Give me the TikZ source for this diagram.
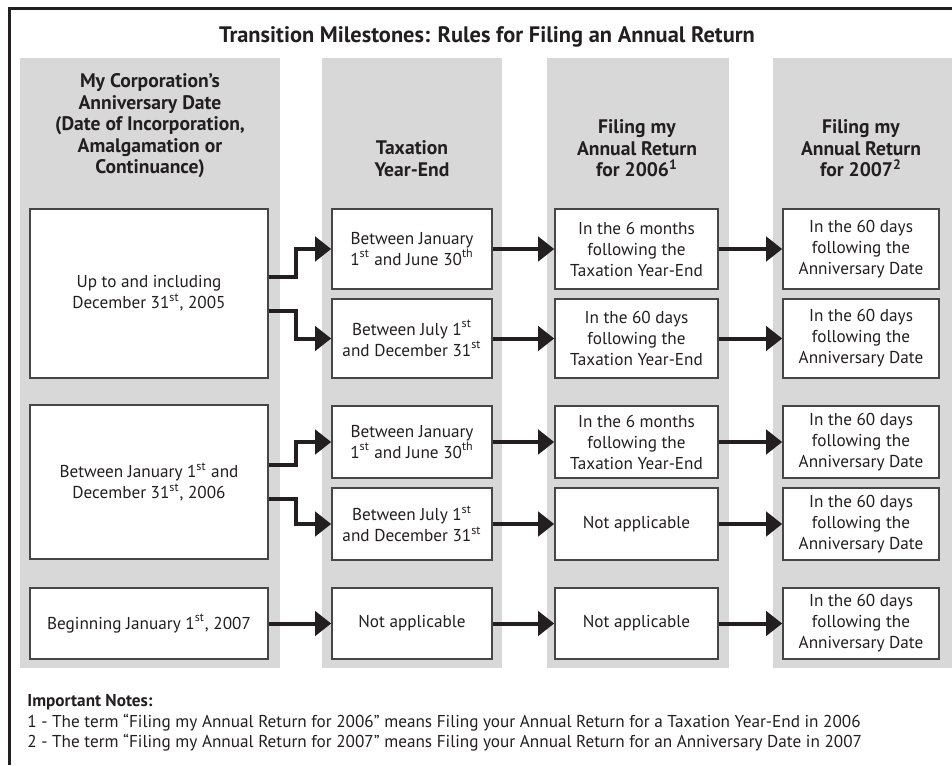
\documentclass[tikz,border=0pt]{standalone}
\usepackage{fontspec}
\setmainfont{PT Sans}
\usetikzlibrary{positioning}
\usetikzlibrary{arrows.meta}
\definecolor{ink}{RGB}{35,31,32}
\definecolor{colgray}{RGB}{216,216,216}
\definecolor{boxline}{RGB}{70,70,70}
\tikzset{
    Box/.style = {rectangle, draw=boxline, fill=white, line width=0.8pt, align=center, inner sep=0pt, text=ink, font=\fontsize{8.6}{10.5}\selectfont}
}
\tikzset{
    Edge/.style = {draw=ink, line width=2pt, -{Triangle[length=8pt,width=12pt]}}
}

\begin{document}
\begin{tikzpicture}[
    x=0.5pt, y=-0.5pt
]
\tikzset{
    Head/.style = {align=center, text=ink, font=\bfseries\fontsize{9.8}{10.75}\selectfont},
}
\useasboundingbox (0,0) rectangle (952,765);
\fill[white] (0,0) rectangle (952,765);

% frame and columns
\draw[ink, line width=1.5pt] (952,9) -- (9,9) -- (9,765);
\fill[colgray] (20,58) rectangle (280,668);
\fill[colgray] (322,58) rectangle (502,668);
\fill[colgray] (547,58) rectangle (729,668);
\fill[colgray] (773,58) rectangle (952,668);

\node[text=ink, font=\bfseries\fontsize{11.2}{13}\selectfont] at (487,37) (title) {Transition Milestones: Rules for Filing an Annual Return};

\node[Head] at (150,126) (h1) {My Corporation's\\Anniversary Date\\(Date of Incorporation,\\Amalgamation or\\Continuance)};
\node[Head] at (412,158.5) (h2) {Taxation\\Year-End};
\node[Head] at (637,148.5) (h3) {Filing my\\Annual Return\\for 2006\textsuperscript{1}};
\node[Head] at (861,148.5) (h4) {Filing my\\Annual Return\\for 2007\textsuperscript{2}};

% anniversary date
\node[Box, minimum width=119pt, minimum height=84.5pt] at (149,293.5) (A1) {Up to and including\\December 31\textsuperscript{st}, 2005};
\node[Box, minimum width=119pt, minimum height=77pt] at (149,482) (A2) {Between January 1\textsuperscript{st} and\\December 31\textsuperscript{st}, 2006};
\node[Box, minimum width=119pt, minimum height=35.5pt] at (149,623.5) (A3) {Beginning January 1\textsuperscript{st}, 2007};

% taxation year-end
\node[Box, minimum width=80pt, minimum height=40pt] at (412,249) (B1) {Between January\\1\textsuperscript{st} and June 30\textsuperscript{th}};
\node[Box, minimum width=80pt, minimum height=39.5pt] at (412,338.5) (B2) {Between July 1\textsuperscript{st}\\and December 31\textsuperscript{st}};
\node[Box, minimum width=80pt, minimum height=36pt] at (412,442) (B3) {Between January\\1\textsuperscript{st} and June 30\textsuperscript{th}};
\node[Box, minimum width=80pt, minimum height=36pt] at (412,524) (B4) {Between July 1\textsuperscript{st}\\and December 31\textsuperscript{st}};
\node[Box, minimum width=80pt, minimum height=35.5pt] at (412,623.5) (B5) {Not applicable};

% return for 2006
\node[Box, minimum width=81.5pt, minimum height=40pt] at (636.5,249) (C1) {In the 6 months\\following the\\Taxation Year-End};
\node[Box, minimum width=81.5pt, minimum height=39.5pt] at (636.5,338.5) (C2) {In the 60 days\\following the\\Taxation Year-End};
\node[Box, minimum width=81.5pt, minimum height=36pt] at (636.5,442) (C3) {In the 6 months\\following the\\Taxation Year-End};
\node[Box, minimum width=81.5pt, minimum height=36pt] at (636.5,524) (C4) {Not applicable};
\node[Box, minimum width=81.5pt, minimum height=35.5pt] at (636.5,623.5) (C5) {Not applicable};

% return for 2007
\node[Box, minimum width=78pt, minimum height=40pt] at (861,249) (D1) {In the 60 days\\following the\\Anniversary Date};
\node[Box, minimum width=78pt, minimum height=39.5pt] at (861,338.5) (D2) {In the 60 days\\following the\\Anniversary Date};
\node[Box, minimum width=78pt, minimum height=36pt] at (861,442) (D3) {In the 60 days\\following the\\Anniversary Date};
\node[Box, minimum width=78pt, minimum height=36pt] at (861,524) (D4) {In the 60 days\\following the\\Anniversary Date};
\node[Box, minimum width=78pt, minimum height=35.5pt] at (861,623.5) (D5) {In the 60 days\\following the\\Anniversary Date};

\draw[Edge] ([yshift=8.5pt]A1.east) -- ++(13.5pt,0) |- (B1.west);
\draw[Edge] ([yshift=-8.5pt]A1.east) -- ++(13.5pt,0) |- (B2.west);
\draw[Edge] ([yshift=8.5pt]A2.east) -- ++(13.5pt,0) |- (B3.west);
\draw[Edge] ([yshift=-8.5pt]A2.east) -- ++(13.5pt,0) |- (B4.west);
\path (A3) edge [Edge] (B5);
\path (B1) edge [Edge] (C1);
\path (B2) edge [Edge] (C2);
\path (B3) edge [Edge] (C3);
\path (B4) edge [Edge] (C4);
\path (B5) edge [Edge] (C5);
\path (C1) edge [Edge] (D1);
\path (C2) edge [Edge] (D2);
\path (C3) edge [Edge] (D3);
\path (C4) edge [Edge] (D4);
\path (C5) edge [Edge] (D5);

\node[anchor=west, align=left, inner sep=0pt, text=ink, font=\fontsize{8.6}{10.2}\selectfont] at (27,723) (notes) {\textbf{Important Notes:}\\1 - The term ``Filing my Annual Return for 2006'' means Filing your Annual Return for a Taxation Year-End in 2006\\2 - The term ``Filing my Annual Return for 2007'' means Filing your Annual Return for an Anniversary Date in 2007};
\end{tikzpicture}
\end{document}
